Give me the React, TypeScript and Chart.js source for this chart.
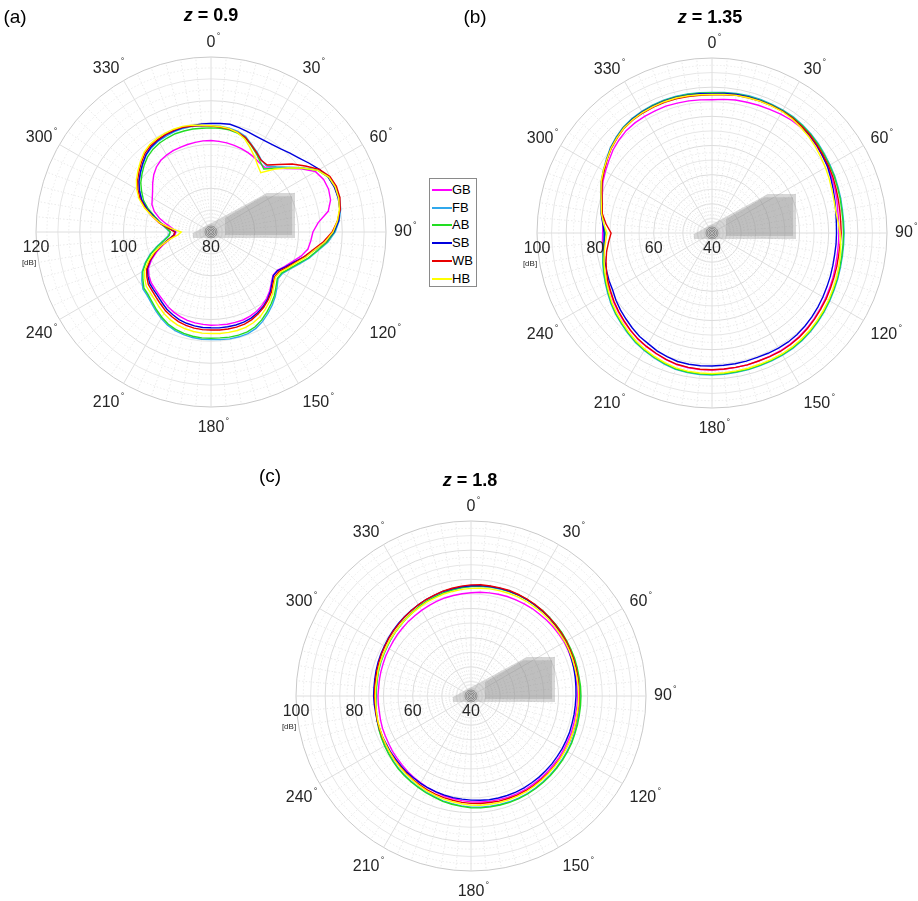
import React, { useEffect, useRef } from 'react';
import { Chart, registerables } from 'chart.js';

Chart.register(...registerables);

// Directions in degrees (clockwise from the top), one every 5°.
const DIRECTIONS = Array.from({ length: 72 }, (_, i) => `${i * 5}`);
const DEGREE_LABELS = [0, 30, 60, 90, 120, 150, 180, 210, 240, 300, 330];
const SERIES = ['GB', 'FB', 'AB', 'SB', 'WB', 'HB'];
const COLORS = ['#ff00ff', '#30a8ec', '#22dd22', '#0000dd', '#e80000', '#ffff00'];

// ---- z = 0.9 (dB) ----
const Z09_GB = [
  100.9, 100.8, 100.7, 100.5, 100.3, 100.0, 99.7, 99.3, 99.2, 100.6, 102.6, 105.2,
  107.6, 108.4, 108.6, 108.3, 107.2, 104.6, 103.3, 102.9, 102.5, 101.3, 99.8, 98.6,
  97.5, 97.3, 98.0, 99.0, 99.8, 100.4, 100.9, 101.2, 101.4, 101.4, 101.4, 101.3,
  101.3, 101.2, 101.1, 100.9, 100.6, 100.2, 99.7, 99.1, 98.6, 98.2, 97.9, 97.3,
  96.5, 95.0, 93.2, 91.3, 89.5, 88.3, 88.0, 88.8, 90.3, 92.2, 93.8, 94.9,
  95.5, 96.3, 97.4, 98.5, 99.4, 100.0, 100.3, 100.5, 100.6, 100.7, 100.8, 100.9,
];
const Z09_FB = [
  104.3, 104.3, 104.1, 103.8, 103.2, 102.0, 101.1, 100.1, 99.7, 101.1, 103.0, 105.6,
  108.3, 109.8, 110.3, 110.4, 110.1, 109.4, 108.4, 106.8, 104.8, 103.2, 101.4, 100.0,
  98.9, 98.7, 99.7, 100.8, 101.8, 102.7, 103.6, 104.3, 104.7, 104.8, 104.8, 104.7,
  104.6, 104.6, 104.5, 104.3, 104.0, 103.5, 102.8, 102.0, 101.2, 100.6, 100.3, 99.3,
  98.2, 96.6, 94.8, 92.8, 91.0, 89.8, 89.4, 90.4, 91.9, 93.6, 95.6, 97.5,
  98.8, 100.1, 101.0, 102.0, 103.0, 103.6, 104.0, 104.2, 104.4, 104.5, 104.5, 104.4,
];
const Z09_AB = [
  103.8, 103.8, 103.7, 103.4, 102.9, 101.8, 100.7, 99.6, 98.8, 100.6, 102.7, 105.4,
  108.2, 109.6, 110.1, 110.2, 109.9, 109.2, 108.2, 106.6, 104.6, 103.0, 101.2, 99.8,
  98.7, 98.5, 99.4, 100.5, 101.4, 102.3, 103.2, 103.9, 104.3, 104.4, 104.4, 104.3,
  104.3, 104.3, 104.2, 104.0, 103.7, 103.2, 102.5, 101.7, 100.9, 100.3, 100.0, 99.0,
  98.0, 96.4, 94.6, 92.6, 90.8, 89.6, 89.3, 90.2, 91.6, 93.2, 95.2, 97.0,
  98.3, 99.6, 100.6, 101.6, 102.5, 103.1, 103.5, 103.7, 103.9, 103.9, 103.9, 103.8,
];
const Z09_SB = [
  104.8, 104.9, 105.0, 104.7, 104.4, 104.2, 104.2, 104.4, 104.8, 105.5, 106.3, 107.4,
  108.6, 109.6, 110.0, 110.1, 109.9, 109.3, 108.1, 106.3, 104.0, 102.0, 100.2, 98.8,
  97.6, 97.4, 98.2, 99.2, 100.1, 100.8, 101.3, 101.7, 101.9, 102.0, 102.0, 102.0,
  101.9, 101.9, 101.8, 101.6, 101.3, 100.8, 100.3, 99.6, 99.0, 98.6, 98.3, 97.6,
  96.8, 95.3, 93.6, 91.7, 89.9, 88.6, 88.2, 89.6, 91.6, 93.5, 95.6, 97.5,
  98.9, 100.1, 101.1, 102.1, 103.1, 103.8, 104.2, 104.5, 104.6, 104.7, 104.7, 104.8,
];
const Z09_WB = [
  104.2, 104.1, 103.9, 103.6, 103.0, 101.9, 100.9, 100.0, 100.0, 101.8, 104.2, 106.3,
  108.6, 110.0, 110.5, 110.5, 110.0, 109.0, 107.7, 105.8, 103.6, 102.0, 100.4, 99.1,
  98.0, 97.8, 98.5, 99.5, 100.3, 101.0, 101.6, 102.1, 102.4, 102.5, 102.5, 102.5,
  102.4, 102.4, 102.3, 102.1, 101.8, 101.3, 100.8, 100.1, 99.5, 99.0, 98.7, 97.9,
  97.0, 95.4, 93.6, 91.6, 89.8, 88.5, 88.3, 89.8, 92.0, 93.9, 96.0, 97.9,
  99.3, 100.5, 101.5, 102.5, 103.5, 104.1, 104.4, 104.6, 104.8, 104.8, 104.6, 104.4,
];
const Z09_HB = [
  104.3, 104.2, 104.0, 103.5, 102.6, 101.2, 99.9, 98.6, 97.7, 100.3, 102.8, 105.5,
  108.2, 109.7, 110.2, 110.2, 109.8, 109.0, 107.9, 106.2, 104.0, 102.4, 100.7, 99.4,
  98.3, 98.0, 98.8, 99.9, 100.8, 101.6, 102.4, 102.9, 103.2, 103.3, 103.3, 103.3,
  103.2, 103.2, 103.1, 102.9, 102.6, 102.1, 101.5, 100.8, 100.1, 99.6, 99.3, 98.5,
  97.5, 95.8, 93.9, 91.7, 89.5, 87.6, 86.8, 89.0, 91.8, 93.9, 96.2, 98.2,
  99.6, 100.8, 101.8, 102.8, 103.8, 104.4, 104.7, 104.9, 105.0, 105.0, 104.8, 104.5,
];

// ---- z = 1.35 (dB) ----
const Z135_GB = [
  85.7, 86.0, 86.3, 86.4, 86.6, 86.8, 87.1, 87.3, 87.3, 87.1, 86.7, 86.2,
  85.8, 85.3, 84.8, 84.3, 83.8, 83.6, 83.5, 83.5, 83.6, 83.8, 84.2, 84.5,
  84.9, 85.3, 85.7, 86.1, 86.4, 86.6, 86.7, 86.7, 86.7, 86.8, 86.8, 86.9,
  87.0, 87.0, 86.9, 86.7, 86.2, 85.6, 85.0, 84.4, 83.6, 82.8, 82.0, 81.2,
  80.3, 79.8, 79.2, 78.6, 78.1, 77.7, 77.5, 77.5, 78.3, 79.0, 80.0, 81.3,
  82.2, 83.2, 84.3, 85.1, 85.8, 86.1, 86.2, 86.2, 86.3, 86.1, 86.0, 85.8,
];
const Z135_FB = [
  88.2, 88.4, 88.6, 88.7, 88.7, 88.7, 88.7, 88.6, 88.3, 88.0, 87.6, 87.1,
  86.7, 86.4, 86.0, 85.7, 85.4, 85.3, 85.3, 85.3, 85.4, 85.6, 85.9, 86.2,
  86.6, 87.0, 87.4, 87.8, 88.1, 88.3, 88.4, 88.4, 88.4, 88.5, 88.5, 88.6,
  88.7, 88.7, 88.6, 88.4, 87.8, 87.2, 86.5, 85.8, 84.9, 84.0, 83.2, 82.3,
  81.3, 80.4, 79.6, 78.8, 78.0, 77.3, 76.8, 77.5, 78.5, 79.3, 80.5, 81.9,
  83.0, 84.2, 85.5, 86.5, 87.4, 87.9, 88.2, 88.4, 88.5, 88.5, 88.4, 88.3,
];
const Z135_AB = [
  88.0, 88.2, 88.4, 88.5, 88.5, 88.5, 88.5, 88.4, 88.1, 87.8, 87.4, 86.9,
  86.5, 86.2, 85.8, 85.5, 85.2, 85.1, 85.1, 85.1, 85.2, 85.4, 85.7, 86.0,
  86.4, 86.8, 87.2, 87.6, 87.9, 88.1, 88.2, 88.2, 88.2, 88.3, 88.3, 88.4,
  88.5, 88.5, 88.4, 88.2, 87.6, 87.0, 86.3, 85.6, 84.7, 83.8, 83.0, 82.1,
  81.1, 80.2, 79.4, 78.6, 77.8, 77.1, 76.6, 77.3, 78.3, 79.1, 80.3, 81.7,
  82.8, 84.0, 85.3, 86.3, 87.2, 87.7, 88.0, 88.2, 88.3, 88.3, 88.2, 88.1,
];
const Z135_SB = [
  87.8, 88.0, 88.2, 88.3, 88.3, 88.3, 88.3, 88.1, 87.7, 87.3, 86.8, 86.2,
  85.7, 84.9, 84.2, 83.6, 83.1, 82.8, 82.7, 82.7, 82.7, 82.9, 83.2, 83.5,
  83.9, 84.3, 84.7, 85.1, 85.4, 85.6, 85.6, 85.5, 85.4, 85.5, 85.5, 85.5,
  85.6, 85.7, 85.7, 85.6, 85.1, 84.6, 83.8, 83.3, 82.5, 81.7, 81.0, 80.2,
  79.3, 78.9, 78.4, 78.0, 77.6, 77.1, 77.0, 77.6, 78.6, 79.3, 80.4, 81.8,
  82.9, 84.0, 85.3, 86.2, 87.1, 87.6, 87.9, 88.0, 88.1, 88.1, 88.0, 87.9,
];
const Z135_WB = [
  87.4, 87.6, 87.9, 88.0, 88.1, 88.2, 88.2, 88.1, 87.8, 87.5, 87.0, 86.5,
  86.1, 85.7, 85.2, 84.8, 84.5, 84.3, 84.3, 84.1, 84.1, 84.3, 84.5, 84.8,
  85.2, 85.5, 85.9, 86.3, 86.6, 86.8, 86.9, 86.8, 86.7, 86.8, 86.8, 86.8,
  86.9, 86.9, 86.8, 86.6, 86.1, 85.5, 84.9, 84.3, 83.5, 82.6, 81.8, 81.0,
  80.1, 79.4, 78.5, 77.6, 76.7, 75.6, 74.6, 76.5, 78.2, 79.0, 80.2, 81.6,
  82.7, 83.9, 85.1, 86.0, 86.9, 87.3, 87.5, 87.6, 87.7, 87.6, 87.5, 87.4,
];
const Z135_HB = [
  87.5, 87.7, 87.9, 88.0, 88.1, 88.1, 88.1, 87.8, 87.3, 86.8, 86.2, 85.5,
  84.9, 84.3, 83.7, 83.3, 83.1, 83.4, 83.9, 84.3, 84.6, 85.0, 85.4, 85.7,
  86.1, 86.5, 86.9, 87.3, 87.6, 87.8, 87.9, 87.9, 87.9, 88.0, 88.0, 88.1,
  88.2, 88.2, 88.1, 87.9, 87.3, 86.7, 86.0, 85.3, 84.4, 83.5, 82.7, 81.8,
  80.8, 79.9, 79.1, 78.3, 77.5, 76.7, 76.0, 77.3, 78.5, 79.3, 80.5, 81.9,
  83.0, 84.0, 85.2, 86.1, 87.0, 87.4, 87.7, 87.8, 87.9, 87.9, 87.8, 87.6,
];

// ---- z = 1.8 (dB) ----
const Z18_GB = [
  75.4, 75.7, 75.9, 76.1, 76.3, 76.4, 76.5, 76.6, 76.6, 76.7, 76.8, 76.8,
  76.9, 76.8, 76.7, 76.6, 76.5, 76.5, 76.5, 76.5, 76.4, 76.5, 76.6, 76.6,
  76.7, 76.8, 76.8, 76.9, 77.0, 77.0, 77.1, 77.0, 77.0, 76.8, 76.7, 76.5,
  76.3, 76.0, 75.7, 75.5, 75.1, 74.8, 74.4, 74.1, 73.8, 73.4, 73.1, 72.9,
  72.6, 72.4, 72.3, 72.1, 71.9, 71.9, 71.9, 71.8, 71.9, 72.0, 72.1, 72.3,
  72.4, 72.6, 72.9, 73.1, 73.4, 73.6, 73.9, 74.2, 74.5, 74.8, 75.0, 75.2,
];
const Z18_FB = [
  77.5, 77.7, 77.9, 78.0, 78.1, 78.2, 78.2, 78.1, 78.0, 77.9, 77.8, 77.8,
  77.7, 77.6, 77.6, 77.5, 77.4, 77.5, 77.5, 77.5, 77.5, 77.6, 77.7, 77.9,
  78.0, 78.1, 78.2, 78.3, 78.4, 78.5, 78.6, 78.6, 78.6, 78.5, 78.4, 78.3,
  78.1, 77.8, 77.5, 77.2, 76.7, 76.4, 76.0, 75.7, 75.4, 75.1, 74.7, 74.4,
  74.1, 73.8, 73.5, 73.2, 72.9, 72.7, 72.5, 72.5, 72.6, 72.8, 73.0, 73.1,
  73.3, 73.6, 73.9, 74.2, 74.6, 74.9, 75.4, 75.8, 76.1, 76.5, 76.9, 77.2,
];
const Z18_AB = [
  77.6, 77.8, 78.0, 78.1, 78.2, 78.3, 78.3, 78.2, 78.2, 78.1, 78.0, 78.0,
  77.9, 77.8, 77.8, 77.7, 77.6, 77.7, 77.7, 77.7, 77.7, 77.8, 77.9, 78.1,
  78.2, 78.3, 78.4, 78.5, 78.6, 78.7, 78.8, 78.8, 78.8, 78.7, 78.6, 78.5,
  78.3, 78.0, 77.7, 77.4, 76.9, 76.6, 76.2, 75.9, 75.6, 75.3, 74.9, 74.5,
  74.2, 73.9, 73.6, 73.3, 73.0, 72.8, 72.6, 72.6, 72.7, 72.9, 73.1, 73.2,
  73.4, 73.7, 74.0, 74.3, 74.7, 75.0, 75.5, 75.9, 76.2, 76.6, 77.0, 77.3,
];
const Z18_SB = [
  77.8, 78.0, 78.1, 78.2, 78.3, 78.3, 78.2, 78.1, 78.0, 77.9, 77.7, 77.4,
  77.2, 77.0, 76.7, 76.5, 76.3, 76.1, 76.0, 75.9, 75.9, 75.9, 76.0, 76.0,
  76.1, 76.1, 76.2, 76.2, 76.3, 76.3, 76.4, 76.4, 76.3, 76.2, 76.1, 75.9,
  75.7, 75.5, 75.4, 75.2, 75.0, 74.8, 74.6, 74.3, 74.2, 73.9, 73.7, 73.6,
  73.4, 73.4, 73.3, 73.3, 73.2, 73.3, 73.4, 73.4, 73.5, 73.7, 73.9, 74.1,
  74.3, 74.6, 74.9, 75.2, 75.5, 75.8, 76.1, 76.5, 76.7, 77.1, 77.3, 77.6,
];
const Z18_WB = [
  78.1, 78.3, 78.3, 78.4, 78.5, 78.4, 78.4, 78.3, 78.2, 78.0, 77.9, 77.8,
  77.7, 77.5, 77.4, 77.3, 77.2, 77.1, 77.1, 77.1, 77.0, 77.1, 77.1, 77.2,
  77.2, 77.3, 77.3, 77.4, 77.4, 77.5, 77.5, 77.5, 77.4, 77.3, 77.1, 77.0,
  76.8, 76.6, 76.3, 76.1, 75.8, 75.5, 75.2, 74.9, 74.6, 74.3, 74.1, 73.8,
  73.6, 73.5, 73.3, 73.2, 73.1, 73.0, 73.1, 73.1, 73.2, 73.4, 73.6, 73.9,
  74.1, 74.4, 74.7, 75.0, 75.4, 75.7, 76.1, 76.5, 76.8, 77.2, 77.5, 77.8,
];
const Z18_HB = [
  76.9, 77.1, 77.3, 77.4, 77.5, 77.6, 77.6, 77.5, 77.5, 77.4, 77.3, 77.2,
  77.2, 77.1, 77.0, 76.9, 76.9, 76.9, 76.9, 76.9, 76.9, 77.0, 77.1, 77.2,
  77.3, 77.4, 77.5, 77.6, 77.7, 77.8, 77.9, 77.9, 77.9, 77.8, 77.7, 77.6,
  77.4, 77.1, 76.8, 76.6, 76.2, 75.9, 75.5, 75.1, 74.8, 74.5, 74.2, 73.9,
  73.6, 73.4, 73.2, 73.1, 72.9, 72.8, 72.8, 72.8, 72.8, 73.0, 73.2, 73.3,
  73.5, 73.8, 74.0, 74.3, 74.6, 74.9, 75.2, 75.6, 75.8, 76.2, 76.4, 76.7,
];

const TICKS_Z09 = [80, 100, 120];
const TICKS_Z135 = [40, 60, 80, 100];
const TICKS_Z18 = [40, 60, 80, 100];

// Footprint marker drawn at the pole, in units of the plot radius (x right, y down).
const FOOTPRINT_OUTER = [[-0.103, 0.034], [-0.103, 0.006], [0.32, -0.223], [0.48, -0.223], [0.48, 0.034]];
const FOOTPRINT_INNER = [[0.08, -0.08], [0.3, -0.205], [0.463, -0.205], [0.463, 0.017], [0.08, 0.017]];

const FONT = '"Liberation Sans", Arial, Helvetica, sans-serif';

type Panel = {
  letter: string;
  z: string;
  min: number;
  max: number;
  ticks: number[];
  series: number[][];
  box: { left: number; top: number; width: number; height: number };
  pad: { left: number; top: number; right: number; bottom: number };
  letterAt: { x: number; y: number };
  titleAt: { x: number; y: number };
};

const PANELS: Panel[] = [
  {
    letter: '(a)', z: '0.9', min: 80, max: 120, ticks: TICKS_Z09,
    series: [Z09_GB, Z09_FB, Z09_AB, Z09_SB, Z09_WB, Z09_HB],
    box: { left: 0, top: 0, width: 430, height: 450 },
    pad: { left: 36, top: 57, right: 44, bottom: 43 },
    letterAt: { x: 15, y: 17 }, titleAt: { x: 211, y: 15 },
  },
  {
    letter: '(b)', z: '1.35', min: 40, max: 100, ticks: TICKS_Z135,
    series: [Z135_GB, Z135_FB, Z135_AB, Z135_SB, Z135_WB, Z135_HB],
    box: { left: 500, top: 0, width: 418, height: 450 },
    pad: { left: 37, top: 58, right: 31, bottom: 42 },
    letterAt: { x: 475, y: 17 }, titleAt: { x: 710, y: 17 },
  },
  {
    letter: '(c)', z: '1.8', min: 40, max: 100, ticks: TICKS_Z18,
    series: [Z18_GB, Z18_FB, Z18_AB, Z18_SB, Z18_WB, Z18_HB],
    box: { left: 250, top: 455, width: 440, height: 446 },
    pad: { left: 46, top: 66, right: 44, bottom: 30 },
    letterAt: { x: 270, y: 476 }, titleAt: { x: 470, y: 480 },
  },
];

const polarDecor = {
  id: 'polarDecor',
  beforeDatasetsDraw(chart: any) {
    const s = chart.scales.r;
    const cx = s.xCenter, cy = s.yCenter, R = s.drawingArea;
    const ctx = chart.ctx;
    ctx.save();
    const poly = (pts: number[][]) => {
      ctx.beginPath();
      pts.forEach(([px, py], i) => {
        const x = cx + px * R, y = cy + py * R;
        if (i === 0) ctx.moveTo(x, y); else ctx.lineTo(x, y);
      });
      ctx.closePath();
      ctx.fill();
    };
    ctx.fillStyle = 'rgba(150,150,150,0.38)';
    poly(FOOTPRINT_OUTER);
    ctx.fillStyle = 'rgba(130,130,130,0.28)';
    poly(FOOTPRINT_INNER);
    // small rings at the pole
    ctx.strokeStyle = 'rgba(80,80,80,0.65)';
    ctx.lineWidth = 0.8;
    [1.5, 3, 4.5, 6].forEach((r) => {
      ctx.beginPath();
      ctx.arc(cx, cy, r, 0, Math.PI * 2);
      ctx.stroke();
    });
    ctx.restore();
  },
  afterDraw(chart: any, _args: any, opts: any) {
    const s = chart.scales.r;
    const cx = s.xCenter, cy = s.yCenter, R = s.drawingArea;
    const ctx = chart.ctx;
    ctx.save();
    ctx.fillStyle = '#262626';
    ctx.textAlign = 'center';
    // angular labels: anchored just outside the rim, text box pushed outward
    DEGREE_LABELS.forEach((a) => {
      const th = (a * Math.PI) / 180;
      const sn = Math.sin(th), cs = Math.cos(th);
      const text = String(a);
      ctx.font = `16px ${FONT}`;
      ctx.textBaseline = 'middle';
      const w = ctx.measureText(text).width;
      const base = s.getPointPosition(a / 5, R + 8);
      const sx = Math.abs(sn) < 0.01 ? 0 : Math.sign(sn);
      const x = base.x + sx * (w / 2);
      const y = base.y - cs * 6 + (cs < -0.01 ? 7 : 0);
      ctx.fillText(text, x, y);
      ctx.font = `9px ${FONT}`;
      ctx.textBaseline = 'alphabetic';
      ctx.fillText('°', x + w / 2 + 3, y - 4);
    });
    // radial tick labels along the left axis
    ctx.font = `16px ${FONT}`;
    ctx.textBaseline = 'middle';
    (opts.ticks as number[]).forEach((v) => {
      const r = s.getDistanceFromCenterForValue(v);
      ctx.fillText(String(v), cx - r, cy + 16);
    });
    ctx.font = `8px ${FONT}`;
    ctx.fillText('[dB]', cx - R - 7, cy + 31);
    ctx.restore();
  },
};

function PolarPanel({ panel }: { panel: Panel }) {
  const ref = useRef<HTMLCanvasElement>(null);
  useEffect(() => {
    if (!ref.current) return;
    const n = panel.series.length;
    const chart = new Chart(ref.current, {
      type: 'radar',
      data: {
        labels: DIRECTIONS,
        datasets: panel.series.map((values, i) => ({
          label: SERIES[i],
          data: values,
          borderColor: COLORS[i],
          backgroundColor: 'transparent',
          borderWidth: 1.4,
          pointRadius: 0,
          fill: false,
          tension: 0,
          order: n - 1 - i,
        })),
      },
      options: {
        responsive: false,
        animation: false,
        devicePixelRatio: 1,
        layout: { padding: panel.pad },
        plugins: {
          legend: { display: false },
          tooltip: { enabled: false },
          title: { display: false },
          polarDecor: { ticks: panel.ticks },
        } as any,
        scales: {
          r: {
            min: panel.min,
            max: panel.max,
            startAngle: 0,
            ticks: { display: false, stepSize: 2.5 },
            pointLabels: { display: false },
            grid: {
              circular: true,
              lineWidth: 1,
              color: (ctx: any) => {
                const v = ctx.tick ? ctx.tick.value : 0;
                if (v === panel.max) return '#c9c9c9';
                if (v % 10 === 0) return '#dcdcdc';
                if (v % 5 === 0) return '#e6e6e6';
                return '#ebebeb';
              },
            },
            border: {
              dash: (ctx: any) => (ctx.tick && ctx.tick.value % 5 !== 0 ? [1.5, 2] : []),
            },
            angleLines: {
              lineWidth: 1,
              color: (ctx: any) => (ctx.index % 6 === 0 ? '#dedede' : '#eaeaea'),
              borderDash: (ctx: any) => (ctx.index % 6 === 0 ? [] : [1.5, 2]),
            },
          } as any,
        },
      },
      plugins: [polarDecor],
    });
    return () => chart.destroy();
  }, [panel]);
  return (
    <canvas
      ref={ref}
      width={panel.box.width}
      height={panel.box.height}
      style={{
        position: 'absolute',
        left: panel.box.left,
        top: panel.box.top,
        width: panel.box.width,
        height: panel.box.height,
      }}
    />
  );
}

function Legend() {
  const rowGap = 17.7;
  return (
    <div
      style={{
        position: 'absolute',
        left: 429,
        top: 178,
        width: 46,
        height: 107,
        border: '1px solid #8a8a8a',
        background: '#fff',
        fontFamily: FONT,
        fontSize: 13,
        color: '#000',
      }}
    >
      {SERIES.map((name, i) => {
        const top = Math.round(3 + i * rowGap);
        return (
          <div key={name} style={{ position: 'absolute', left: 0, top, height: 16, width: 46 }}>
            <div style={{ position: 'absolute', left: 2, top: 7, width: 20, height: 2, background: COLORS[i] }} />
            <div style={{ position: 'absolute', left: 22, top: 0, lineHeight: '16px' }}>{name}</div>
          </div>
        );
      })}
    </div>
  );
}

export default function App() {
  return (
    <div
      style={{
        position: 'absolute',
        left: 0,
        top: 0,
        width: 918,
        height: 901,
        background: '#fff',
        overflow: 'hidden',
        fontFamily: FONT,
      }}
    >
      {PANELS.map((p) => (
        <React.Fragment key={p.letter}>
          <PolarPanel panel={p} />
          <div
            style={{
              position: 'absolute',
              left: p.letterAt.x - 15,
              top: p.letterAt.y - 12,
              width: 30,
              textAlign: 'center',
              fontSize: 19,
              lineHeight: '24px',
              color: '#000',
            }}
          >
            {p.letter}
          </div>
          <div
            style={{
              position: 'absolute',
              left: p.titleAt.x - 100,
              top: p.titleAt.y - 12,
              width: 200,
              textAlign: 'center',
              fontSize: 18,
              fontWeight: 'bold',
              lineHeight: '24px',
              color: '#000',
            }}
          >
            <i>z</i> = {p.z}
          </div>
        </React.Fragment>
      ))}
      <Legend />
    </div>
  );
}
